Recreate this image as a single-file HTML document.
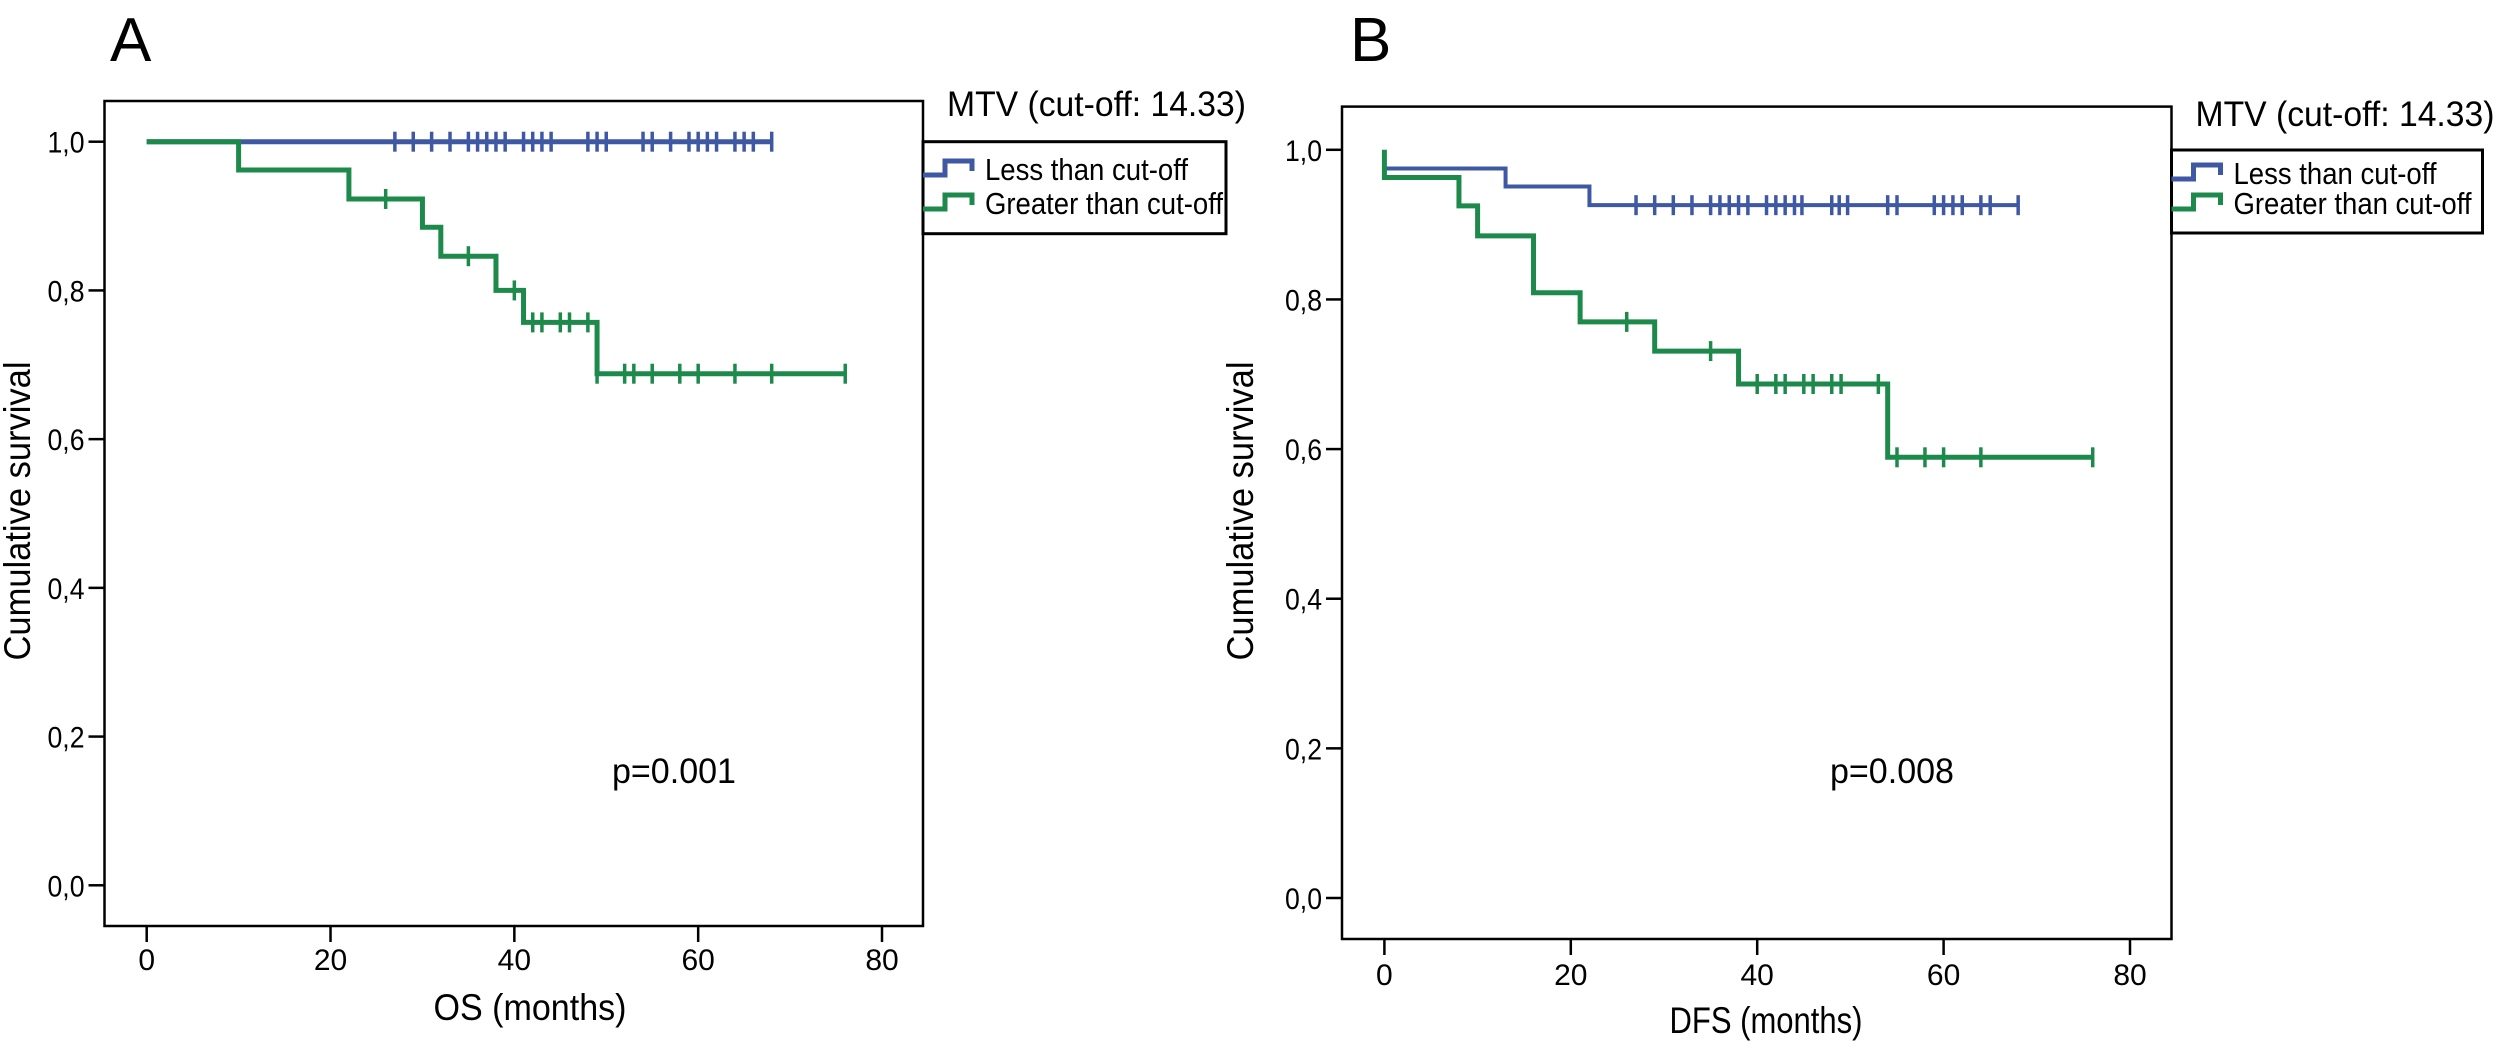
<!DOCTYPE html>
<html><head><meta charset="utf-8"><style>
html,body{margin:0;padding:0;background:#fff;}
svg{display:block;font-family:"Liberation Sans Narrow","Liberation Sans",sans-serif;}
</style></head><body>
<svg id="fig" width="2497" height="1058" viewBox="0 0 2497 1058" xmlns="http://www.w3.org/2000/svg"></svg>
<script>
// ---- Data ----
const xTicks = [0, 20, 40, 60, 80];
const yTicks = [0, 0.2, 0.4, 0.6, 0.8, 1.0];
const yTickLabels = ["0,0", "0,2", "0,4", "0,6", "0,8", "1,0"];

// Panel A (OS)
const osLessSteps = [[0, 1.0], [68, 1.0]];
const osLessCensor = [27, 29, 31, 33, 35, 36, 37, 38, 39, 41, 42, 43, 44, 48, 49, 50, 54, 55, 57, 59, 60, 61, 62, 64, 65, 66, 68];
const osGreaterSteps = [[0, 1.0], [10, 0.962], [22, 0.923], [30, 0.885], [32, 0.846], [38, 0.800], [41, 0.757], [49, 0.688], [76, 0.688]];
const osGreaterCensor = [26, 35, 40, 42, 43, 45, 46, 48, 49, 52, 53, 55, 58, 60, 64, 68, 76];

// Panel B (DFS)
const dfsLessSteps = [[0, 0.975], [13, 0.951], [22, 0.926], [68, 0.926]];
const dfsLessCensor = [27, 29, 31, 33, 35, 36, 37, 38, 39, 41, 42, 43, 44, 44.8, 48, 48.8, 49.7, 54, 55, 59, 60, 61, 62, 64, 65, 68];
const dfsGreaterSteps = [[0, 1.0], [0, 0.963], [8, 0.925], [10, 0.885], [16, 0.809], [21, 0.770], [29, 0.731], [38, 0.687], [54, 0.589], [76, 0.589]];
const dfsGreaterCensor = [26, 35, 40, 42, 43, 45, 46, 48, 49, 53, 55, 58, 60, 64, 76];

const BLUE = "#3f58a3", GREEN = "#1d8a4b";
const NS = "http://www.w3.org/2000/svg";
const svg = document.getElementById("fig");

function mk(tag, attrs, parent, text) {
  const e = document.createElementNS(NS, tag);
  for (const k in attrs) e.setAttribute(k, attrs[k]);
  if (text !== undefined) e.textContent = text;
  (parent || svg).appendChild(e);
  return e;
}

function panel(cfg) {
  const g = mk("g", {});
  
  
  const sx = v => cfg.x0 + (v / 80) * (cfg.x80 - cfg.x0);
  const sy = v => cfg.y0 + v * (cfg.y1 - cfg.y0);

  const box = mk("rect", {x: cfg.bl, y: cfg.bt, width: cfg.br - cfg.bl, height: cfg.bb - cfg.bt, fill: "none", stroke: "#000", "stroke-width": 2.5}, g);
  
  

  const letter = mk("text", {x: cfg.letterX, y: 61, "font-size": 62, "font-family": "Liberation Sans, sans-serif"}, g, cfg.letter);
  
  

  yTicks.forEach((v, i) => {
    const t = mk("line", {x1: cfg.bl - 16, x2: cfg.bl, y1: sy(v), y2: sy(v), stroke: "#000", "stroke-width": 2.5}, g);
    
    
    const l = mk("text", {x: cfg.bl - 20, y: sy(v) + 11, "font-size": 30, "text-anchor": "end", textLength: 37, lengthAdjust: "spacingAndGlyphs"}, g, yTickLabels[i]);
    
    
  });
  xTicks.forEach(v => {
    const t = mk("line", {x1: sx(v), x2: sx(v), y1: cfg.bb, y2: cfg.bb + 16, stroke: "#000", "stroke-width": 2.5}, g);
    
    
    const l = mk("text", {x: sx(v), y: cfg.xLabY, "font-size": 30, "text-anchor": "middle"}, g, String(v));
    
    
  });

  const xt = mk("text", {x: cfg.xTitleX, y: cfg.xTitleY, "font-size": 37, "text-anchor": "middle", textLength: 193, lengthAdjust: "spacingAndGlyphs"}, g, cfg.xTitle);
  
  
  const yt = mk("text", {x: 0, y: 0, "font-size": 37, "text-anchor": "middle", textLength: 299, lengthAdjust: "spacingAndGlyphs", transform: `translate(${cfg.yTitleX},511) rotate(-90)`}, g, "Cumulative survival");
  
  

  const pv = mk("text", {x: cfg.pX, y: 783, "font-size": 35, textLength: 124, lengthAdjust: "spacingAndGlyphs"}, g, cfg.pText);
  
  

  function curve(steps, censor, color, w, name) {
    let d = `M${sx(steps[0][0])},${sy(steps[0][1])}`;
    for (let i = 1; i < steps.length; i++) {
      d += ` H${sx(steps[i][0])} V${sy(steps[i][1])}`;
    }
    const p = mk("path", {d: d, fill: "none", stroke: color, "stroke-width": w, "stroke-linejoin": "miter"}, g);
    
    
    function valAt(t) {
      let v = steps[0][1];
      for (const s of steps) if (s[0] <= t) v = s[1];
      return v;
    }
    censor.forEach(t => {
      const y = sy(valAt(t));
      const c = mk("line", {x1: sx(t), x2: sx(t), y1: y - 10, y2: y + 10, stroke: color, "stroke-width": 3.5}, g);
      
      
    });
  }
  curve(cfg.less, cfg.lessC, BLUE, cfg.blueW, 'less-than-cutoff');
  curve(cfg.greater, cfg.greaterC, GREEN, 5, 'greater-than-cutoff');

  // legend
  const lt = mk("text", {x: cfg.br + 24, y: cfg.legTitleY + 12, "font-size": 35, textLength: 299, lengthAdjust: "spacingAndGlyphs"}, g, "MTV (cut-off: 14.33)");
  
  
  const lb = mk("rect", {x: cfg.br, y: cfg.legTop, width: cfg.legW, height: cfg.legH, fill: "none", stroke: "#000", "stroke-width": 3}, g);
  
  
  [[BLUE, "Less than cut-off", cfg.legY1, 203], [GREEN, "Greater than cut-off", cfg.legY2, 238]].forEach(([c, txt, y, tl]) => {
    const ic = mk("path", {d: `M${cfg.br},${y + 6} H${cfg.br + 22} V${y - 8} H${cfg.br + 49} V${y + 2}`, fill: "none", stroke: c, "stroke-width": 5}, g);
    
    
    const tx = mk("text", {x: cfg.br + 62, y: y + 11, "font-size": 31, textLength: tl, lengthAdjust: "spacingAndGlyphs"}, g, txt);
    
    
  });
}

panel({id: 'os', letter: "A", letterX: 110, bl: 104.5, br: 923, bt: 101, bb: 926,
  x0: 146.7, x80: 882, y0: 885.3, y1: 141.7, xLabY: 970, xTitle: "OS (months)", xTitleX: 530, xTitleY: 1020,
  yTitleX: 30, pX: 612, pText: "p=0.001", less: osLessSteps, lessC: osLessCensor, greater: osGreaterSteps, greaterC: osGreaterCensor,
  blueW: 5, legTitleY: 104, legTop: 141.7, legW: 303, legH: 92, legY1: 169, legY2: 203});
panel({id: 'dfs', letter: "B", letterX: 1350, bl: 1342, br: 2171.5, bt: 106.6, bb: 939,
  x0: 1384.4, x80: 2130, y0: 898, y1: 149.8, xLabY: 985, xTitle: "DFS (months)", xTitleX: 1766, xTitleY: 1033,
  yTitleX: 1253, pX: 1830, pText: "p=0.008", less: dfsLessSteps, lessC: dfsLessCensor, greater: dfsGreaterSteps, greaterC: dfsGreaterCensor,
  blueW: 4, legTitleY: 114, legTop: 150, legW: 311, legH: 83, legY1: 173, legY2: 203});
</script>
</body></html>
